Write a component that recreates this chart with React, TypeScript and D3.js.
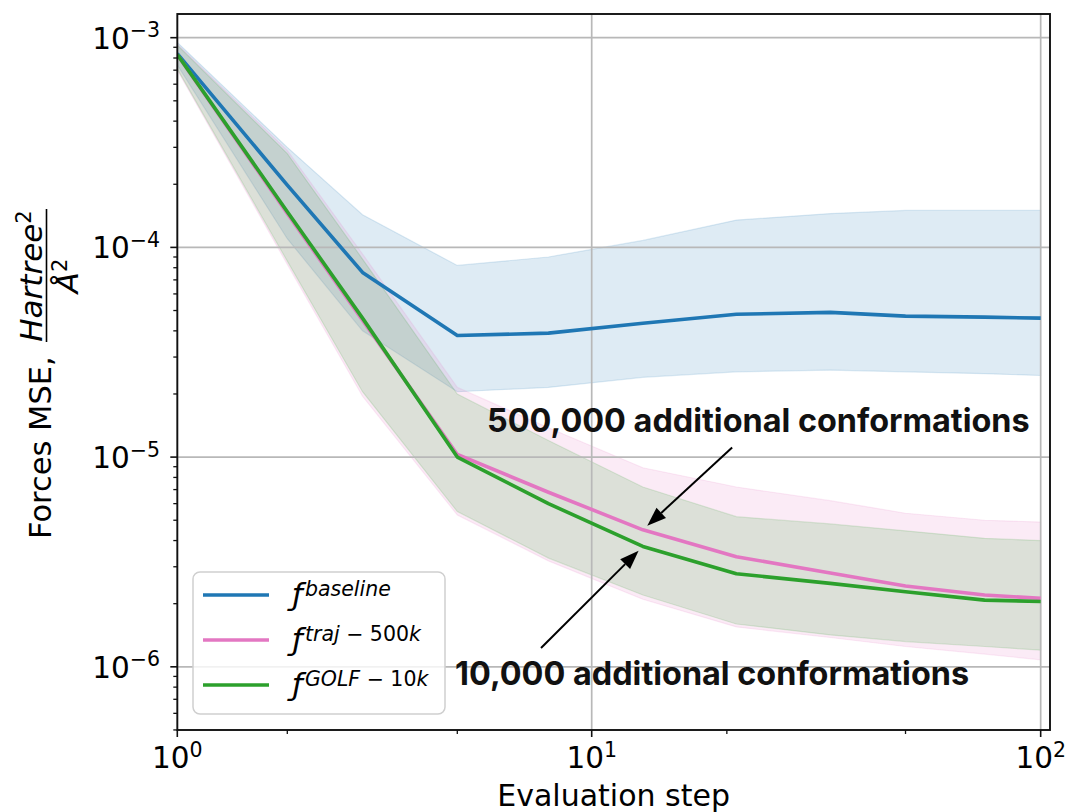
import React from 'react';
import * as d3 from 'd3';

// evaluation steps (x) and the three runs: mean with lower / upper envelope
const steps = [1, 2, 3, 5, 8, 13, 21, 34, 50, 75, 100];

const baselineMean = [8.4e-4, 1.98e-4, 7.6e-5, 3.8e-5, 3.9e-5, 4.35e-5, 4.8e-5, 4.9e-5, 4.7e-5, 4.65e-5, 4.6e-5];
const baselineLow = [7.4e-4, 1.1e-4, 4.0e-5, 2.05e-5, 2.15e-5, 2.4e-5, 2.55e-5, 2.6e-5, 2.55e-5, 2.5e-5, 2.45e-5];
const baselineHigh = [9.5e-4, 3.0e-4, 1.43e-4, 8.2e-5, 9.0e-5, 1.08e-4, 1.35e-4, 1.45e-4, 1.5e-4, 1.5e-4, 1.5e-4];

const trajMean = [8.3e-4, 1.45e-4, 4.5e-5, 1.03e-5, 6.8e-6, 4.5e-6, 3.35e-6, 2.8e-6, 2.43e-6, 2.2e-6, 2.12e-6];
const trajLow = [7.0e-4, 8.3e-5, 1.95e-5, 5.3e-6, 3.2e-6, 2.1e-6, 1.55e-6, 1.38e-6, 1.25e-6, 1.15e-6, 1.08e-6];
const trajHigh = [9.3e-4, 2.9e-4, 9.3e-5, 2.15e-5, 1.38e-5, 8.9e-6, 7.2e-6, 6.2e-6, 5.4e-6, 5.0e-6, 4.9e-6];

const golfMean = [8.3e-4, 1.48e-4, 4.6e-5, 1.0e-5, 6.0e-6, 3.75e-6, 2.78e-6, 2.5e-6, 2.28e-6, 2.08e-6, 2.05e-6];
const golfLow = [7.1e-4, 8.6e-5, 2.05e-5, 5.5e-6, 3.3e-6, 2.2e-6, 1.6e-6, 1.42e-6, 1.32e-6, 1.25e-6, 1.2e-6];
const golfHigh = [9.2e-4, 2.8e-4, 8.8e-5, 2.0e-5, 1.2e-5, 7.2e-6, 5.2e-6, 4.8e-6, 4.45e-6, 4.1e-6, 4.0e-6];

const xMajorTicks = [1, 10, 100];
const xMajorLabels = ['0', '1', '2'];
const xMinorTicks = [2, 5, 20, 50];
const yMajorTicks = [1e-6, 1e-5, 1e-4, 1e-3];
const yMajorLabels = ['−6', '−5', '−4', '−3'];

type Part = { t: string; it?: boolean };

const series = [
  {
    key: 'baseline', color: '#1f77b4', mean: baselineMean, lo: baselineLow, hi: baselineHigh,
    sup: [{ t: 'baseline', it: true }] as Part[],
  },
  {
    key: 'traj', color: '#e377c2', mean: trajMean, lo: trajLow, hi: trajHigh,
    sup: [{ t: 'traj', it: true }, { t: ' − 500' }, { t: 'k', it: true }] as Part[],
  },
  {
    key: 'golf', color: '#2ca02c', mean: golfMean, lo: golfLow, hi: golfHigh,
    sup: [{ t: 'GOLF', it: true }, { t: ' − 10' }, { t: 'k', it: true }] as Part[],
  },
];

// annotations in data coordinates (like matplotlib annotate)
const annotations = [
  { text: '500,000 additional conformations', textAt: [5.83, 1.32e-5], tail: [20.55, 1.11e-5], target: 'traj', step: 13 },
  { text: '10,000 additional conformations', textAt: [4.94, 8.18e-7], tail: [7.7, 1.23e-6], target: 'golf', step: 13 },
];

const W = 1069;
const H = 812;
const left = 177.3;
const right = 1050;
const top = 14;
const bottom = 730;

const FONT = '"DejaVu Sans", sans-serif';

export default function App() {
  // the source axis is slightly uneven in its first decade, so map it piecewise
  const x = d3.scaleLog().domain([1, 2, 5, 10, 104.9]).range([left, 287.3, 457.3, 591.7, right]);
  const y = d3.scaleLog().domain([4.997e-7, 1.297e-3]).range([bottom, top]);

  const pts = steps.map((s, i) => i);
  const line = (arr: number[]) =>
    d3.line<number>().x(i => x(steps[i])).y(i => y(arr[i]))(pts) as string;
  const area = (lo: number[], hi: number[]) =>
    d3.area<number>().x(i => x(steps[i])).y0(i => y(lo[i])).y1(i => y(hi[i]))(pts) as string;

  const yMinor: number[] = [];
  for (let e = -7; e <= -3; e++) {
    for (let m = 2; m <= 9; m++) {
      const v = m * Math.pow(10, e);
      if (v > y.domain()[0] && v < y.domain()[1]) yMinor.push(v);
    }
  }

  const arrows = annotations.map(a => {
    const s = series.find(d => d.key === a.target)!;
    const px = x(a.step);
    const py = y(s.mean[steps.indexOf(a.step)]);
    const tx = x(a.tail[0]);
    const ty = y(a.tail[1]);
    const dx = px - tx;
    const dy = py - ty;
    const len = Math.hypot(dx, dy);
    const ux = dx / len;
    const uy = dy / len;
    const tipX = px - ux * 6;
    const tipY = py - uy * 6;
    const hl = 19;
    const hw = 7;
    const bx = tipX - ux * hl;
    const by = tipY - uy * hl;
    const head = `${tipX},${tipY} ${bx - uy * hw},${by + ux * hw} ${bx + uy * hw},${by - ux * hw}`;
    return { ...a, tx, ty, bx, by, head };
  });

  const legendY = [595, 640, 685];

  return (
    <svg width={W} height={H} style={{ position: 'absolute', left: 0, top: 0, background: '#fff' }} fontFamily={FONT}>
      <defs>
        <clipPath id="plot">
          <rect x={left} y={top} width={right - left} height={bottom - top} />
        </clipPath>
      </defs>

      <g clipPath="url(#plot)">
        {series.map(s => (
          <path key={s.key + 'band'} d={area(s.lo, s.hi)} fill={s.color} fillOpacity={0.15}
            stroke={s.color} strokeOpacity={0.15} strokeWidth={1.2} />
        ))}

        {yMajorTicks.map(v => (
          <line key={'gy' + v} x1={left} x2={right} y1={y(v)} y2={y(v)} stroke="#b8b8b8" strokeWidth={1.7} />
        ))}
        {xMajorTicks.map(v => (
          <line key={'gx' + v} x1={x(v)} x2={x(v)} y1={top} y2={bottom} stroke="#b8b8b8" strokeWidth={1.7} />
        ))}

        {series.map(s => (
          <path key={s.key + 'line'} d={line(s.mean)} fill="none" stroke={s.color} strokeWidth={3.6}
            strokeLinejoin="round" />
        ))}
      </g>

      {/* spines */}
      <rect x={left} y={top} width={right - left} height={bottom - top} fill="none" stroke="#111" strokeWidth={1.9} />

      {/* y ticks */}
      {yMajorTicks.map((v, i) => (
        <g key={'yt' + v}>
          <line x1={left - 7} x2={left} y1={y(v)} y2={y(v)} stroke="#111" strokeWidth={1.6} />
          <text x={160} y={y(v) + 11} textAnchor="end" fontSize={29.5} fill="#000">
            <tspan>10</tspan>
            <tspan dy={-11.5} fontSize={20.5}>{yMajorLabels[i]}</tspan>
          </text>
        </g>
      ))}
      {yMinor.map(v => (
        <line key={'ym' + v} x1={left - 4} x2={left} y1={y(v)} y2={y(v)} stroke="#111" strokeWidth={1.3} />
      ))}

      {/* x ticks */}
      {xMajorTicks.map((v, i) => (
        <g key={'xt' + v}>
          <line x1={x(v)} x2={x(v)} y1={bottom} y2={bottom + 7} stroke="#111" strokeWidth={1.6} />
          <text x={x(v)} y={bottom + 38} textAnchor="middle" fontSize={29.5} fill="#000">
            <tspan>10</tspan>
            <tspan dy={-11.5} fontSize={20.5}>{xMajorLabels[i]}</tspan>
          </text>
        </g>
      ))}
      {xMinorTicks.map(v => (
        <line key={'xm' + v} x1={x(v)} x2={x(v)} y1={bottom} y2={bottom + 4} stroke="#111" strokeWidth={1.3} />
      ))}

      <text x={(left + right) / 2} y={806} textAnchor="middle" fontSize={30} fill="#000">Evaluation step</text>

      {/* y label with fraction */}
      <g transform="rotate(-90)" fill="#000">
        <text x={-539} y={51} fontSize={30.5}>Forces MSE,</text>
        <line x1={-342} x2={-209} y1={46.5} y2={46.5} stroke="#000" strokeWidth={1.6} />
        <text x={-276} y={42} textAnchor="middle" fontSize={31} fontStyle="italic">
          <tspan>Hartree</tspan>
          <tspan dy={-11} fontSize={21} fontStyle="normal">2</tspan>
        </text>
        <text x={-276} y={78} textAnchor="middle" fontSize={31} fontStyle="italic">
          <tspan>Å</tspan>
          <tspan dy={-11} fontSize={21} fontStyle="normal">2</tspan>
        </text>
      </g>

      {/* legend */}
      <rect x={193} y={572} width={252} height={142} rx={7} fill="#fff" fillOpacity={0.8} stroke="#cfcfcf" strokeWidth={1.5} />
      {series.map((s, i) => (
        <g key={s.key + 'leg'}>
          <line x1={203} x2={269} y1={legendY[i]} y2={legendY[i]} stroke={s.color} strokeWidth={3.6} />
          <text x={292} y={legendY[i] + 10} fontSize={31} fontStyle="italic" fill="#000">
            <tspan>ƒ</tspan>
            <tspan dx={2} dy={-9.5} fontSize={20.5}>
              {s.sup.map((p, j) => (
                <tspan key={j} fontStyle={p.it ? 'italic' : 'normal'}>{p.t}</tspan>
              ))}
            </tspan>
          </text>
        </g>
      ))}

      {/* annotations */}
      {arrows.map(a => (
        <g key={a.text}>
          <line x1={a.tx} y1={a.ty} x2={a.bx} y2={a.by} stroke="#000" strokeWidth={2} />
          <polygon points={a.head} fill="#000" />
          <text x={x(a.textAt[0])} y={y(a.textAt[1])} fontFamily="Inter, Roboto, sans-serif" fontWeight={700}
            fontSize={32.4} fill="#111">{a.text}</text>
        </g>
      ))}
    </svg>
  );
}
